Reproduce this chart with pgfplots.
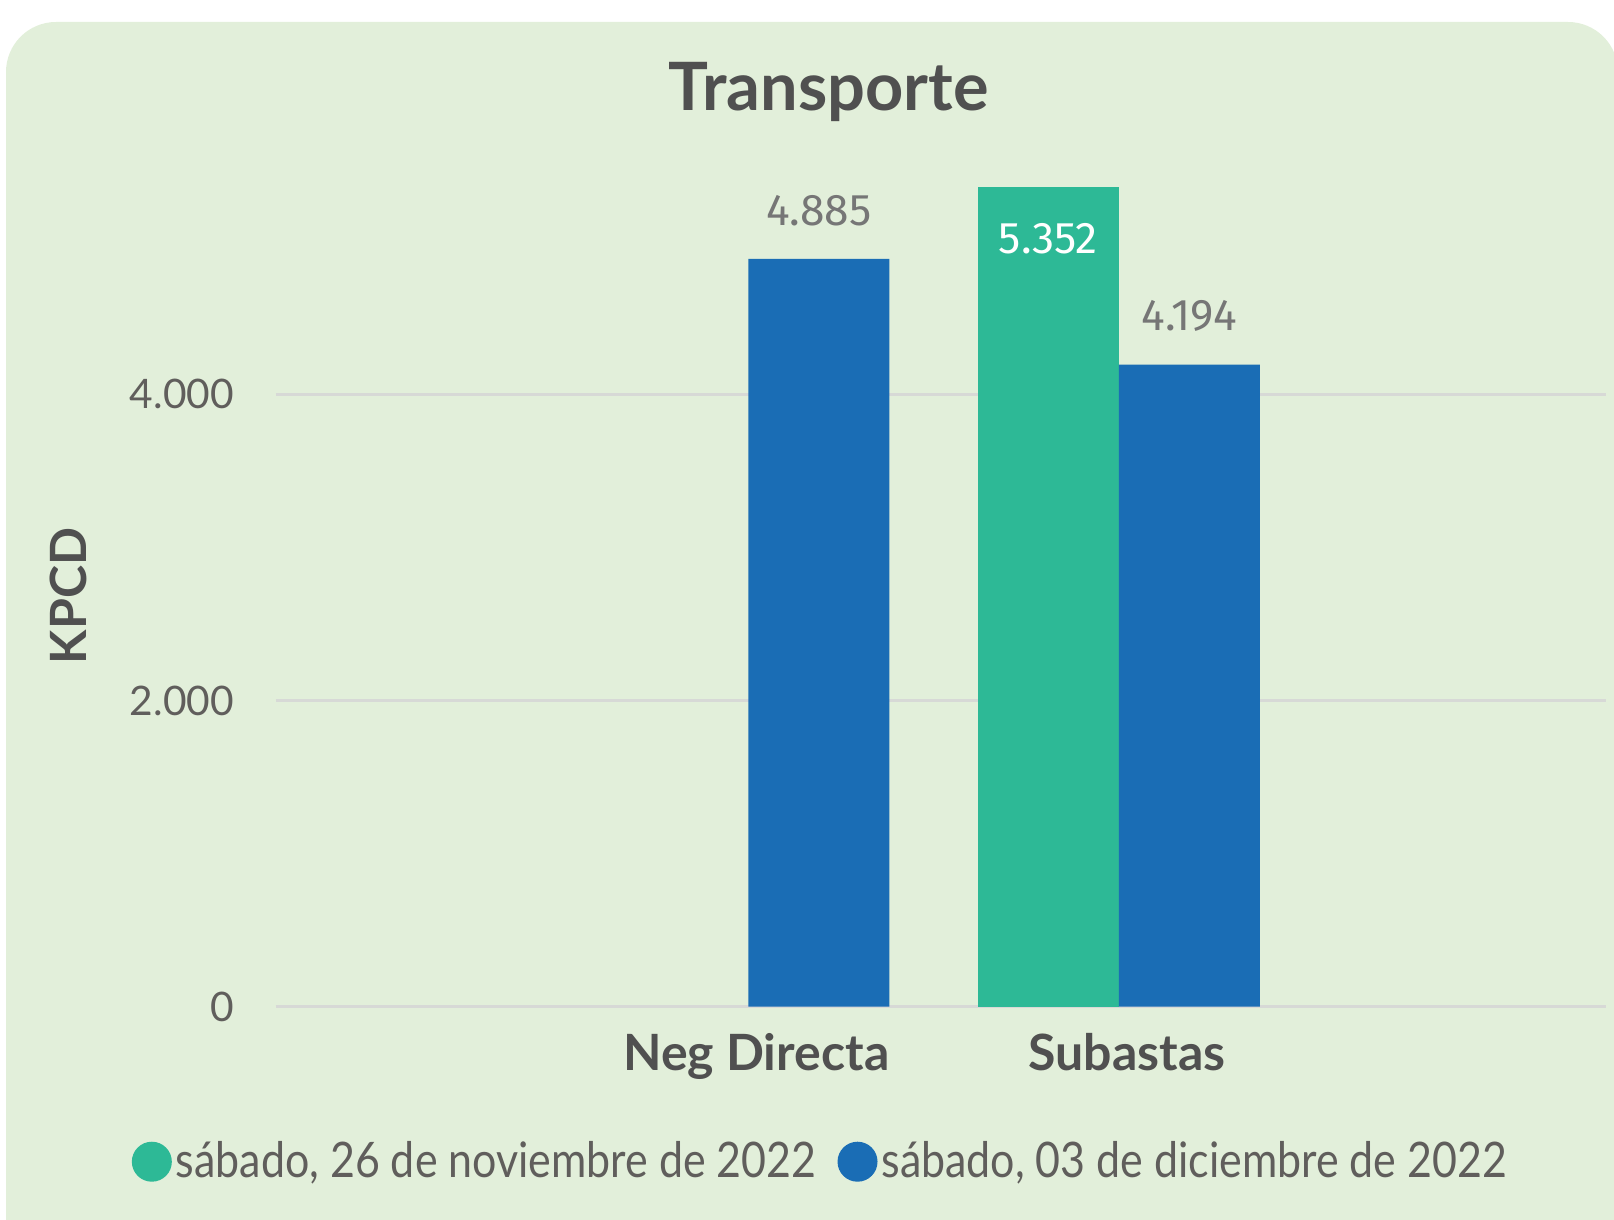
\documentclass[border=0pt]{standalone}
\usepackage{pgfplots}
\pgfplotsset{compat=1.18}
\usepackage{fontspec}
\setmainfont{Lato}
\newfontfamily\dinfont{Fira Sans}
\newfontfamily\legfont[FakeStretch=0.876]{Lato}
\definecolor{bg}{HTML}{E2EFDA}
\definecolor{cgreen}{HTML}{2DB996}
\definecolor{cblue}{HTML}{1A6DB5}
\definecolor{gridc}{HTML}{D7D9D6}
\definecolor{txt}{HTML}{605E5C}
\definecolor{titc}{HTML}{505050}
\definecolor{lab}{HTML}{767676}
\begin{document}
\begin{tikzpicture}
\useasboundingbox (0,0) rectangle (484.2pt,-366pt);
\begin{scope}
\clip (0,0) rectangle (484.2pt,-366pt);
\fill[bg, rounded corners=15pt] (1.8pt,-6.6pt) rectangle (485.4pt,-420pt);
\end{scope}
\begin{axis}[
  at={(82.77pt,-302.01pt)}, anchor=south west,
  scale only axis, width=398.94pt, height=257.2pt,
  ybar, bar width=0.3805,
  xmin=-1.2747, xmax=2.3136, ymin=0, ymax=5600,
  xtick={0,1}, xticklabels={Neg Directa, Subastas},
  ytick={0,2000,4000}, yticklabels={0,2.000,4.000},
  axis line style={draw=none}, major tick length=0pt,
  ymajorgrids, major grid style={draw=gridc, line width=0.9pt},
  yticklabel style={font=\fontsize{12.2}{14}\selectfont, text=txt, inner sep=0pt, anchor=east, xshift=-12.4pt},
  xticklabel style={font=\fontsize{15}{18}\selectfont\bfseries, text=titc, inner sep=0pt, anchor=base, yshift=-19.1pt, xshift=2.4pt},
  legend columns=2,
  legend style={draw=none, fill=none, at={(0.4088,-0.1808)}, anchor=center,
    font=\legfont\fontsize{14.7}{17}\selectfont, text=txt, inner sep=0pt,
    nodes={inner sep=0pt},
    /tikz/every odd column/.style={column sep=1.2pt},
    /tikz/every even column/.style={column sep=6.3pt}},
]
\addplot[fill=cgreen, draw=none, bar shift=-0.19025,
  legend image code/.code={\fill[cgreen] (6pt,0pt) circle (6pt);},
  nodes near coords, point meta=explicit symbolic,
  every node near coord/.append style={font=\dinfont\fontsize{13.3}{15}\selectfont, text=white, anchor=north, inner sep=0pt, yshift=-10.5pt}]
  coordinates {(1,5352) [5.352]};
\addlegendentry{sábado, 26 de noviembre de 2022}
\addplot[fill=cblue, draw=none, bar shift=0.19025,
  legend image code/.code={\fill[cblue] (6pt,0pt) circle (6pt);},
  nodes near coords, point meta=explicit symbolic,
  every node near coord/.append style={font=\dinfont\fontsize{13.3}{15}\selectfont, text=lab, anchor=south, inner sep=0pt, yshift=9.6pt}]
  coordinates {(0,4885) [4.885] (1,4194) [4.194]};
\addlegendentry{sábado, 03 de diciembre de 2022}
\end{axis}
\node[anchor=base, font=\fontsize{20}{24}\selectfont\bfseries, text=titc] at (248.6pt,-33.3pt) {Transporte};
\node[rotate=90, font=\fontsize{15}{18}\selectfont\bfseries, text=titc] at (20.4pt,-178.8pt) {KPCD};
\end{tikzpicture}
\end{document}
